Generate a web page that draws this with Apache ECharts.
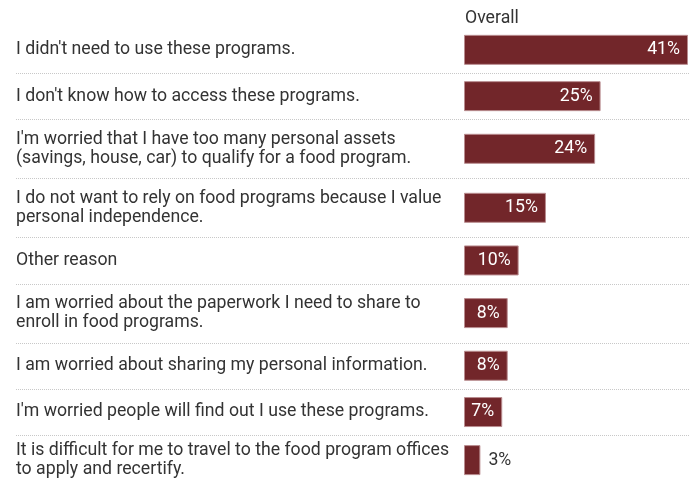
<!DOCTYPE html>
<html>
<head>
<meta charset="utf-8">
<style>
  html, body { margin: 0; padding: 0; background: #fff; }
  #main { width: 699px; height: 485px; }
</style>
<script src="https://cdn.jsdelivr.net/npm/echarts@6/dist/echarts.min.js"></script>
</head>
<body>
<div id="main"></div>
<script>
// Survey answers: reasons for not using food programs (share of respondents, %)
const columnHeader = 'Overall';
const categories = [
  "I didn't need to use these programs.",
  "I don't know how to access these programs.",
  "I'm worried that I have too many personal assets\n(savings, house, car) to qualify for a food program.",
  "I do not want to rely on food programs because I value\npersonal independence.",
  "Other reason",
  "I am worried about the paperwork I need to share to\nenroll in food programs.",
  "I am worried about sharing my personal information.",
  "I'm worried people will find out I use these programs.",
  "It is difficult for me to travel to the food program offices\nto apply and recertify."
];
const values = [41, 25, 24, 15, 10, 8, 8, 7, 3];

const FONT = 'Roboto, "Noto Sans", sans-serif';
const FONT_SIZE = 17.7;
const TEXT = '#333333';
const BAR = '#72262a';

const plotLeft = 464;
const plotRight = 11;
const labelLeft = 16;
const firstRowTop = 26.7;
const oneLineRow = 46.3;
const twoLineRow = 59;
const xMax = Math.max(...values);

const chart = echarts.init(document.getElementById('main'), null, { renderer: 'canvas' });

const grids = [], xAxes = [], yAxes = [], series = [];
const graphics = [{
  type: 'text',
  left: plotLeft + 1,
  top: 10,
  style: { text: columnHeader, fill: TEXT, font: FONT_SIZE + 'px ' + FONT }
}];

let rowTop = firstRowTop;
categories.forEach((cat, i) => {
  const lines = cat.split('\n').length;
  const h = lines > 1 ? twoLineRow : oneLineRow;
  grids.push({ left: plotLeft, right: plotRight, top: rowTop, height: h, containLabel: false });
  xAxes.push({ gridIndex: i, type: 'value', min: 0, max: xMax, show: false });
  yAxes.push({
    gridIndex: i,
    type: 'category',
    data: [cat],
    axisLine: { show: false },
    axisTick: { show: false },
    splitLine: { show: false },
    axisLabel: {
      align: 'left',
      margin: plotLeft - labelLeft,
      fontFamily: FONT,
      fontSize: FONT_SIZE,
      lineHeight: 19,
      color: TEXT
    }
  });
  const inside = values[i] >= 5;
  series.push({
    type: 'bar',
    xAxisIndex: i,
    yAxisIndex: i,
    data: [values[i]],
    barWidth: 30,
    silent: true,
    itemStyle: { color: BAR, borderColor: '#b98c8f', borderWidth: 1 },
    label: {
      show: true,
      position: inside ? 'insideRight' : 'right',
      distance: 8,
      formatter: p => p.value + '%',
      color: inside ? '#ffffff' : TEXT,
      fontFamily: FONT,
      fontSize: FONT_SIZE
    }
  });
  if (i > 0) {
    const yy = Math.round(rowTop) + 0.5;
    graphics.push({
      type: 'line',
      silent: true,
      shape: { x1: labelLeft, y1: yy, x2: 690, y2: yy },
      style: { stroke: '#c8c8c8', lineWidth: 1, lineDash: [1, 1] }
    });
  }
  rowTop += h;
});

chart.setOption({
  animation: false,
  backgroundColor: '#ffffff',
  grid: grids,
  xAxis: xAxes,
  yAxis: yAxes,
  series: series,
  graphic: graphics
});
</script>
</body>
</html>
